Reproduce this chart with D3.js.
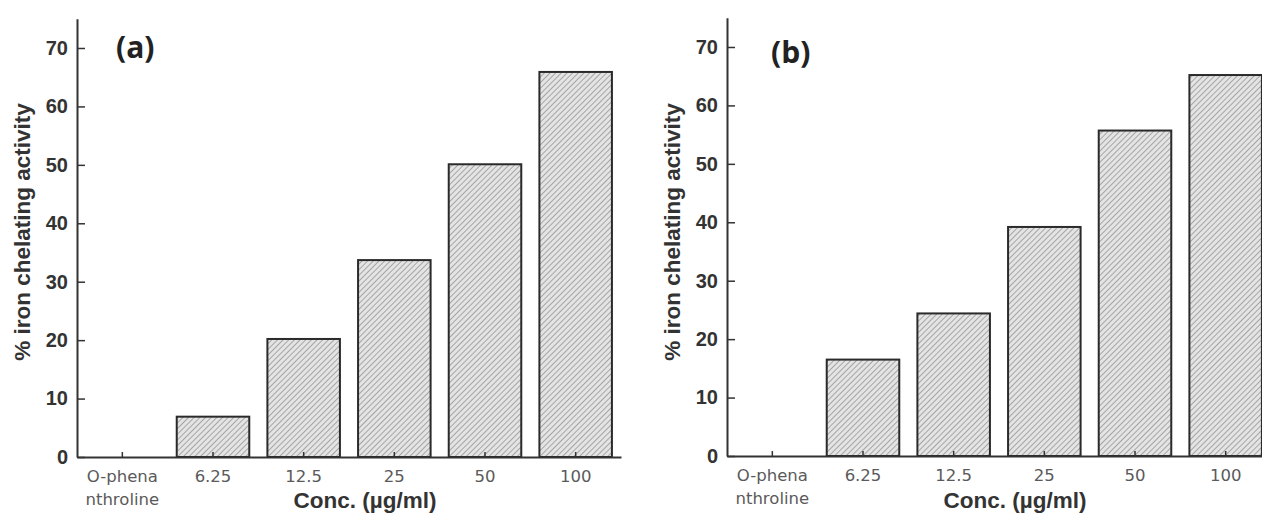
<!DOCTYPE html>
<html>
<head>
<meta charset="utf-8">
<script src="https://cdn.jsdelivr.net/npm/d3@7"></script>
<style>
  body { margin: 0; background: #fff; }
  svg { display: block; }
  .ytick text { font-family: "Liberation Sans", Arial, sans-serif; font-weight: bold; font-size: 20px; fill: #333; }
  .xtick text { font-family: "DejaVu Sans", sans-serif; font-size: 16.5px; fill: #5a5a5a; }
  .axis-title { font-family: "Liberation Sans", Arial, sans-serif; font-weight: bold; font-size: 22.5px; fill: #333; }
  .panel-label { font-family: "Open Sans", sans-serif; font-weight: bold; font-size: 30px; fill: #222; }
</style>
</head>
<body>
<div id="chart-area"></div>
<script>
// categories on the x axis
var categories = ["O-phena\nnthroline", "6.25", "12.5", "25", "50", "100"];
// % iron chelating activity
var valuesA = [0, 6.9, 20.2, 33.7, 50.1, 65.9];
var valuesB = [0, 16.5, 24.4, 39.2, 55.7, 65.2];
var yTicks = [0, 10, 20, 30, 40, 50, 60, 70];
var panelLabels = ["(a)", "(b)"];

var width = 1262, height = 513;

var svg = d3.select("#chart-area").append("svg")
    .attr("width", width)
    .attr("height", height);

// hatch pattern for the bars
var pat = svg.append("defs").append("pattern")
    .attr("id", "hatch")
    .attr("patternUnits", "userSpaceOnUse")
    .attr("width", 4)
    .attr("height", 4)
    .attr("patternTransform", "rotate(45)");
pat.append("rect").attr("width", 4).attr("height", 4).attr("fill", "#e4e4e4");
pat.append("line")
    .attr("x1", 0).attr("y1", 0).attr("x2", 0).attr("y2", 4)
    .attr("stroke", "#909090").attr("stroke-width", 1.5);

function drawPanel(values, axisX, zeroY, label, labelX, labelY) {
    var x = d3.scaleBand()
        .domain(categories)
        .range([axisX, axisX + 544])
        .paddingInner(0.2)
        .paddingOuter(0.1);

    var y = d3.scaleLinear()
        .domain([0, 75])
        .range([zeroY, zeroY - 75 * 5.843]);

    var g = svg.append("g");

    // bars
    g.selectAll("rect.bar")
        .data(values.map(function(v, i) { return {cat: categories[i], v: v}; })
            .filter(function(d) { return d.v > 0; }))
        .enter()
        .append("rect")
        .attr("class", "bar")
        .attr("x", function(d) { return x(d.cat); })
        .attr("y", function(d) { return y(d.v); })
        .attr("width", x.bandwidth())
        .attr("height", function(d) { return y(0) - y(d.v); })
        .attr("fill", "url(#hatch)")
        .attr("stroke", "#2a2a2a")
        .attr("stroke-width", 2);

    // y axis, ticks pointing inwards
    var yAxis = g.append("g")
        .attr("class", "ytick")
        .attr("transform", "translate(" + axisX + ",0)")
        .call(d3.axisLeft(y).tickValues(yTicks).tickSizeInner(-8).tickSizeOuter(0).tickPadding(9));
    yAxis.select(".domain").attr("stroke", "#333").attr("stroke-width", 2);
    yAxis.selectAll(".tick line").attr("stroke", "#333").attr("stroke-width", 1.5);

    // x axis
    var xAxis = g.append("g")
        .attr("class", "xtick")
        .attr("transform", "translate(0," + zeroY + ")")
        .call(d3.axisBottom(x).tickSizeInner(-5).tickSizeOuter(0));
    xAxis.select(".domain").attr("stroke", "#333").attr("stroke-width", 2);
    xAxis.selectAll(".tick line").attr("stroke", "#333").attr("stroke-width", 1.5);
    xAxis.selectAll(".tick text").each(function(d) {
        var t = d3.select(this);
        var lines = d.split("\n");
        t.text(null).attr("y", 25).attr("dy", null);
        lines.forEach(function(s, i) {
            t.append("tspan").attr("x", 0).attr("dy", i === 0 ? 0 : 23).text(s);
        });
    });

    // axis titles
    g.append("text")
        .attr("class", "axis-title")
        .attr("x", axisX + 288)
        .attr("y", 508)
        .attr("text-anchor", "middle")
        .text("Conc. (\u00b5g/ml)");

    g.append("text")
        .attr("class", "axis-title")
        .attr("transform", "translate(" + (axisX - 47) + "," + 232 + ") rotate(-90)")
        .attr("text-anchor", "middle")
        .text("% iron chelating activity");

    // panel label
    g.append("text")
        .attr("class", "panel-label")
        .attr("x", labelX)
        .attr("y", labelY)
        .text(label);
}

drawPanel(valuesA, 77, 457, panelLabels[0], 116, 58);
drawPanel(valuesB, 727, 456, panelLabels[1], 771, 63);
</script>
</body>
</html>
